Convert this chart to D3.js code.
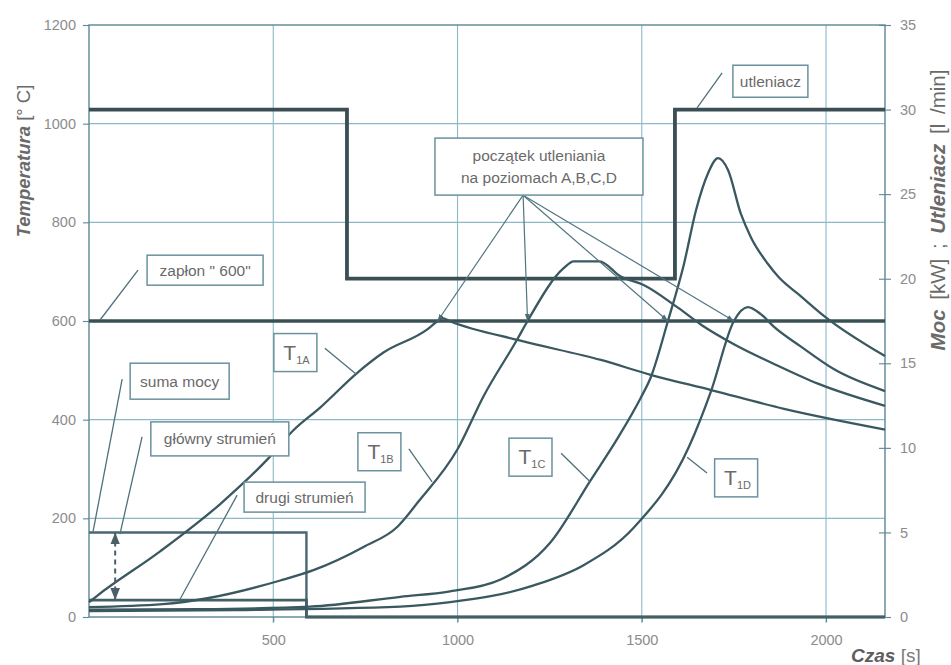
<!DOCTYPE html>
<html>
<head>
<meta charset="utf-8">
<script src="https://cdn.jsdelivr.net/npm/d3@7"></script>
<style>
  html, body { margin: 0; padding: 0; background: #ffffff; }
  svg { display: block; font-family: "Liberation Sans", Arial, sans-serif; }
</style>
</head>
<body>
<svg id="chart" width="951" height="665"></svg>
<script>
// ---- axis ticks ----
const timeTicks  = [500, 1000, 1500, 2000];          // Czas [s]
const tempTicks  = [0, 200, 400, 600, 800, 1000, 1200]; // Temperatura [°C]
const powerTicks = [0, 5, 10, 15, 20, 25, 30, 35];   // Moc [kW] ; Utleniacz [l/min]
const timeMax = 2160;

// ---- temperature at levels A, B, C, D : [time s, °C] ----
const t1A = [[0,30],[22,43],[193,133],[356,229],[486,321],[554,378],[628,425],[728,495],[799,536],
             [918,583],[946,600],[958,606],[981,599],[1171,560],[1389,521],[1524,491],[1688,460],
             [1886,422],[2160,380]];
const t1B = [[0,20],[200,26],[321,38],[519,74],[609,95],[745,142],[837,183],[894,234],[1000,340],
             [1071,448],[1163,564],[1190,600],[1288,707],[1315,721],[1385,721],[1443,690],[1505,673],
             [1598,627],[1660,593],[1750,553],[1859,513],[1978,473],[2160,428]];
const t1C = [[0,15],[300,16],[600,21],[845,41],[980,52],[1117,76],[1253,152],[1361,277],[1435,363],
             [1497,444],[1524,485],[1571,600],[1614,714],[1647,824],[1679,898],[1707,930],[1734,906],
             [1769,817],[1796,770],[1842,716],[1870,690],[1932,650],[1995,610],[2160,529]];
const t1D = [[0,12],[400,14],[845,21],[980,30],[1207,64],[1342,105],[1478,181],[1628,345],[1688,458],
             [1750,600],[1788,628],[1823,614],[1859,588],[1932,548],[2022,502],[2160,458]];

// ---- ignition threshold [°C] ----
const zaplon = [[0,600],[2160,600]];

// ---- power [kW] and oxidizer flow [l/min] ----
const sumaMocy      = [[0,5],[590,5],[590,0],[2160,0]];
const drugiStrumien = [[0,1],[590,1],[590,0],[2160,0]];
const utleniacz     = [[0,30],[700,30],[700,20],[1590,20],[1590,30],[2160,30]];

// ---- oxidation onset at levels A..D : [time s, °C] ----
const onsetPoints = [[946,600],[1190,600],[1571,600],[1750,600]];

// ---- annotation labels ----
const noteBoxes = [
  { lines: ["utleniacz"], t: 1849, temp: 1086, w: 75, h: 32 },
  { lines: ["początek utleniania", "na poziomach A,B,C,D"], t: 1221, temp: 913, w: 208, h: 57 },
  { lines: ["zapłon \" 600\""], t: 315, temp: 703, w: 116, h: 30 },
  { lines: ["suma mocy"], t: 246, temp: 478, w: 99, h: 36 },
  { lines: ["główny strumień"], t: 355, temp: 361, w: 138, h: 34 },
  { lines: ["drugi strumień"], t: 585, temp: 243, w: 121, h: 30 }
];
const curveTags = [
  { sub: "1A", t: 560,  temp: 536 },
  { sub: "1B", t: 788,  temp: 335 },
  { sub: "1C", t: 1198, temp: 324 },
  { sub: "1D", t: 1756, temp: 282 }
];
// leader lines [t1, temp1, t2, temp2]
const leaders = [
  [1718,1103, 1650,1032],   // utleniacz
  [133,703, 30,602],        // zapłon
  [90,482, 11,173],         // suma mocy
  [144,365, 84,168],        // główny strumień
  [402,247, 247,36],        // drugi strumień
  [640,545, 727,491],       // T1A
  [868,341, 931,274],       // T1B
  [1281,332, 1360,274],     // T1C
  [1677,292, 1623,324]      // T1D
];
const onsetOrigin = [1178, 855];
const mainStreamSpan = { t: 71, from: 5, to: 1 };

// ---- layout ----
const svg = d3.select("#chart");
const plot = { left: 89, right: 885, top: 25, bottom: 617 };

const x  = d3.scaleLinear().domain([0, timeMax]).range([plot.left, plot.right]);
const yT = d3.scaleLinear().domain([0, 1200]).range([plot.bottom, plot.top]);
const yP = d3.scaleLinear().domain([0, 35]).range([plot.bottom, plot.top]);

const gridColor  = "#8db8c8";
const frameColor = "#5c8794";
const lineColor  = "#3a585f";
const textGray   = "#8c8c8c";
const noteText   = "#6a6a6a";
const boxColor   = "#6a929e";

// defs: arrowheads
const defs = svg.append("defs");
defs.append("marker").attr("id", "tip").attr("viewBox", "0 0 10 10")
  .attr("refX", 10).attr("refY", 5).attr("markerWidth", 7).attr("markerHeight", 7)
  .attr("orient", "auto-start-reverse").attr("markerUnits", "userSpaceOnUse")
  .append("path").attr("d", "M0,1.5 L10,5 L0,8.5 Z").attr("fill", "#4d6d76");
defs.append("marker").attr("id", "bigtip").attr("viewBox", "0 0 10 10")
  .attr("refX", 10).attr("refY", 5).attr("markerWidth", 12).attr("markerHeight", 12)
  .attr("orient", "auto-start-reverse").attr("markerUnits", "userSpaceOnUse")
  .append("path").attr("d", "M0,1 L10,5 L0,9 Z").attr("fill", "#4a5f66");

// grid
const grid = svg.append("g");
grid.selectAll(".gx").data(timeTicks).join("line")
  .attr("x1", d => x(d)).attr("x2", d => x(d))
  .attr("y1", plot.top).attr("y2", plot.bottom + 6)
  .attr("stroke", gridColor).attr("stroke-width", 1.1);
grid.selectAll(".gy").data(tempTicks.filter(d => d > 0 && d < 1200)).join("line")
  .attr("x1", plot.left).attr("x2", plot.right)
  .attr("y1", d => yT(d)).attr("y2", d => yT(d))
  .attr("stroke", gridColor).attr("stroke-width", 1.1);

// frame
svg.append("rect")
  .attr("x", plot.left).attr("y", plot.top)
  .attr("width", plot.right - plot.left).attr("height", plot.bottom - plot.top)
  .attr("fill", "none").attr("stroke", frameColor).attr("stroke-width", 1.4);

// left axis
const leftAxis = d3.axisLeft(yT).tickValues(tempTicks).tickSize(6).tickPadding(7).tickFormat(d3.format("d"));
const gL = svg.append("g").attr("transform", `translate(${plot.left},0)`).call(leftAxis);
// right axis
const rightAxis = d3.axisRight(yP).tickValues(powerTicks).tickSize(6).tickPadding(9).tickFormat(d3.format("d"));
const gR = svg.append("g").attr("transform", `translate(${plot.right},0)`).call(rightAxis);
gR.selectAll(".tick line").attr("x1", -6);
// bottom axis
const bottomAxis = d3.axisBottom(x).tickValues(timeTicks).tickSize(5).tickPadding(13).tickFormat(d3.format("d"));
const gB = svg.append("g").attr("transform", `translate(0,${plot.bottom})`).call(bottomAxis);

[gL, gR, gB].forEach(g => {
  g.select(".domain").remove();
  g.selectAll(".tick line").attr("stroke", frameColor).attr("stroke-width", 1.1);
  g.selectAll(".tick text").attr("fill", textGray).attr("font-size", 14.5)
    .attr("font-family", "'Liberation Sans', Arial, sans-serif");
});

// series lines
const lineT = d3.line().x(d => x(d[0])).y(d => yT(d[1])).curve(d3.curveMonotoneX);
const lineTs = d3.line().x(d => x(d[0])).y(d => yT(d[1]));
const lineP = d3.line().x(d => x(d[0])).y(d => yP(d[1]));

svg.append("path").datum(sumaMocy).attr("d", lineP)
  .attr("fill", "none").attr("stroke", "#4a6870").attr("stroke-width", 2.4);
svg.append("path").datum(drugiStrumien).attr("d", lineP)
  .attr("fill", "none").attr("stroke", "#455f66").attr("stroke-width", 2.8);
svg.append("path").datum(utleniacz).attr("d", lineP)
  .attr("fill", "none").attr("stroke", "#3a4e53").attr("stroke-width", 3.8)
  .attr("stroke-linejoin", "miter");
svg.append("path").datum(zaplon).attr("d", lineTs)
  .attr("fill", "none").attr("stroke", "#3b5055").attr("stroke-width", 3.4);

[t1A, t1B, t1C, t1D].forEach(s => {
  svg.append("path").datum(s).attr("d", lineT)
    .attr("fill", "none").attr("stroke", lineColor).attr("stroke-width", 2.3)
    .attr("stroke-linejoin", "round");
});

// leader lines
const notes = svg.append("g");
notes.selectAll(".lead").data(leaders).join("line")
  .attr("x1", d => x(d[0])).attr("y1", d => yT(d[1]))
  .attr("x2", d => x(d[2])).attr("y2", d => yT(d[3]))
  .attr("stroke", "#4f717b").attr("stroke-width", 1.3);

// oxidation onset arrows
notes.selectAll(".onset").data(onsetPoints).join("line")
  .attr("x1", x(onsetOrigin[0])).attr("y1", yT(onsetOrigin[1]))
  .attr("x2", d => x(d[0])).attr("y2", d => yT(d[1]))
  .attr("stroke", "#527580").attr("stroke-width", 1.2)
  .attr("marker-end", "url(#tip)");

// main stream span (difference between total and second stream)
notes.append("line")
  .attr("x1", x(mainStreamSpan.t)).attr("x2", x(mainStreamSpan.t))
  .attr("y1", yP(mainStreamSpan.from)).attr("y2", yP(mainStreamSpan.to))
  .attr("stroke", "#4a5f66").attr("stroke-width", 2)
  .attr("stroke-dasharray", "5,4")
  .attr("marker-start", "url(#bigtip)").attr("marker-end", "url(#bigtip)");

// label boxes
const bx = notes.selectAll(".box").data(noteBoxes).join("g")
  .attr("transform", d => `translate(${x(d.t)},${yT(d.temp)})`);
bx.append("rect")
  .attr("x", d => -d.w / 2).attr("y", d => -d.h / 2)
  .attr("width", d => d.w).attr("height", d => d.h)
  .attr("fill", "#ffffff").attr("stroke", boxColor).attr("stroke-width", 1.5);
bx.each(function(d) {
  const g = d3.select(this);
  const n = d.lines.length;
  d.lines.forEach((s, i) => {
    g.append("text")
      .attr("x", 0).attr("y", (i - (n - 1) / 2) * 22)
      .attr("dy", "0.35em").attr("text-anchor", "middle")
      .attr("font-size", 15.5).attr("fill", noteText)
      .text(s);
  });
});

// curve tags T1A..T1D
const tg = notes.selectAll(".tag").data(curveTags).join("g")
  .attr("transform", d => `translate(${x(d.t)},${yT(d.temp)})`);
tg.append("rect")
  .attr("x", -21.5).attr("y", -19).attr("width", 43).attr("height", 38)
  .attr("fill", "#ffffff").attr("stroke", boxColor).attr("stroke-width", 1.5);
tg.append("text")
  .attr("x", -12).attr("y", 7)
  .attr("fill", noteText)
  .call(t => {
    t.append("tspan").attr("font-size", 21).text("T");
    t.append("tspan").attr("font-size", 11).attr("dy", 4).text(d => d.sub);
  });

// axis titles
svg.append("text")
  .attr("transform", "translate(30,161) rotate(-90)")
  .attr("text-anchor", "middle").attr("fill", "#6a6a6a").attr("font-size", 18.5)
  .call(t => {
    t.append("tspan").attr("font-weight", "bold").attr("font-style", "italic").text("Temperatura");
    t.append("tspan").text(" [° C]");
  });

svg.append("text")
  .attr("transform", "translate(945,210) rotate(-90)")
  .attr("text-anchor", "middle").attr("fill", "#6a6a6a").attr("font-size", 20.5)
  .attr("word-spacing", 4)
  .call(t => {
    t.append("tspan").attr("font-weight", "bold").attr("font-style", "italic").text("Moc");
    t.append("tspan").text(" [kW] ; ");
    t.append("tspan").attr("font-weight", "bold").attr("font-style", "italic").text("Utleniacz");
    t.append("tspan").text(" [l /min]");
  });

svg.append("text")
  .attr("x", 851).attr("y", 662)
  .attr("fill", "#5e5e5e").attr("font-size", 19)
  .call(t => {
    t.append("tspan").attr("font-weight", "bold").attr("font-style", "italic").text("Czas");
    t.append("tspan").attr("fill", "#7a7a7a").text(" [s]");
  });
</script>
</body>
</html>
